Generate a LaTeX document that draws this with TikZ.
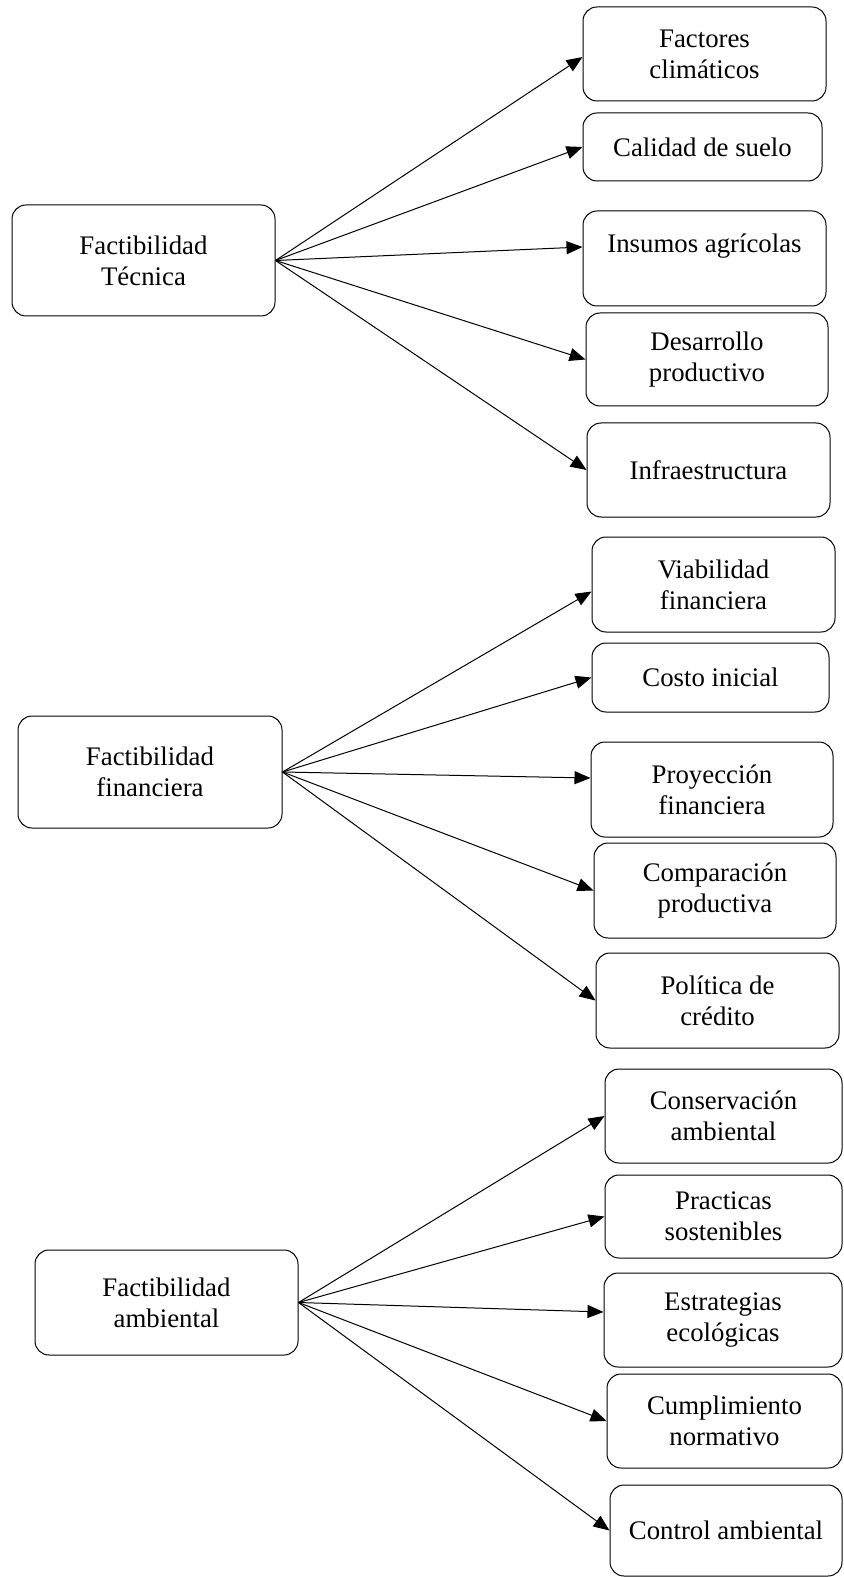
\documentclass[tikz,border=0pt]{standalone}
\usepackage{fontspec}
\setmainfont{Liberation Serif}
\usetikzlibrary{arrows.meta}
\tikzstyle{box}=[
    draw,line width=0.5pt,rounded corners=7pt,
    align=center,inner sep=0pt,
    font=\fontsize{13.4}{15.5}\selectfont
    ]
\tikzstyle{link}=[
    line width=0.5pt,
    -{Triangle[length=8pt,width=6.5pt]}
    ]

\begin{document}
\begin{tikzpicture}[
x=0.5pt,y=-0.5pt
]
\useasboundingbox (0,0) rectangle (843,1577);
%factibilidad tecnica
\node[box,minimum width=131.5pt,minimum height=55.5pt] (tec) at (143.5,260.5) {Factibilidad\\Técnica};
\node[box,minimum width=121.5pt,minimum height=47pt] (fac) at (704.5,54) {Factores\\climáticos};
\node[box,minimum width=119.5pt,minimum height=34pt] (cal) at (702.5,147) {Calidad de suelo};
\node[box,minimum width=121.5pt,minimum height=47.5pt] (ins) at (704.5,258.5) {Insumos agrícolas\\\mbox{}};
\node[box,minimum width=121pt,minimum height=46.5pt] (des) at (707,359.5) {Desarrollo\\productivo};
\node[box,minimum width=121.5pt,minimum height=47pt] (inf) at (708.5,470) {Infraestructura};
\draw[link] (tec.east) -- ([yshift=-1.5pt]fac.west);
\draw[link] (tec.east) -- (cal.west);
\draw[link] (tec.east) -- ([yshift=5.75pt]ins.west);
\draw[link] (tec.east) -- (des.west);
\draw[link] (tec.east) -- (inf.west);
%factibilidad financiera
\node[box,minimum width=132pt,minimum height=56pt] (fin) at (150,772) {Factibilidad\\financiera};
\node[box,minimum width=121.5pt,minimum height=47.5pt] (via) at (713.5,584.5) {Viabilidad\\financiera};
\node[box,minimum width=118.5pt,minimum height=34.5pt] (cos) at (710.5,677.5) {Costo inicial};
\node[box,minimum width=121pt,minimum height=47.5pt] (pro) at (712,789.5) {Proyección\\financiera};
\node[box,minimum width=121pt,minimum height=47.5pt] (com) at (715,890.5) {Comparación\\productiva};
\node[box,minimum width=121.5pt,minimum height=47.5pt] (pol) at (717.5,1000.5) {Política de\\crédito};
\draw[link] (fin.east) -- ([yshift=-3.5pt]via.west);
\draw[link] (fin.east) -- (cos.west);
\draw[link] (fin.east) -- ([yshift=5.75pt]pro.west);
\draw[link] (fin.east) -- (com.west);
\draw[link] (fin.east) -- (pol.west);
%factibilidad ambiental
\node[box,minimum width=131.5pt,minimum height=52.5pt] (amb) at (166.5,1302.5) {Factibilidad\\ambiental};
\node[box,minimum width=118.5pt,minimum height=47pt] (con) at (723.5,1116) {Conservación\\ambiental};
\node[box,minimum width=118.5pt,minimum height=41.5pt] (pra) at (723.5,1216.5) {Practicas\\sostenibles};
\node[box,minimum width=119pt,minimum height=47pt] (est) at (723,1320) {Estrategias\\ecológicas};
\node[box,minimum width=117.5pt,minimum height=47pt] (cum) at (724.5,1421) {Cumplimiento\\normativo};
\node[box,minimum width=116pt,minimum height=45.5pt] (ctl) at (726,1530.5) {Control ambiental};
\draw[link] (amb.east) -- (con.west);
\draw[link] (amb.east) -- (pra.west);
\draw[link] (amb.east) -- ([yshift=4pt]est.west);
\draw[link] (amb.east) -- (cum.west);
\draw[link] (amb.east) -- (ctl.west);
\end{tikzpicture}
\end{document}
